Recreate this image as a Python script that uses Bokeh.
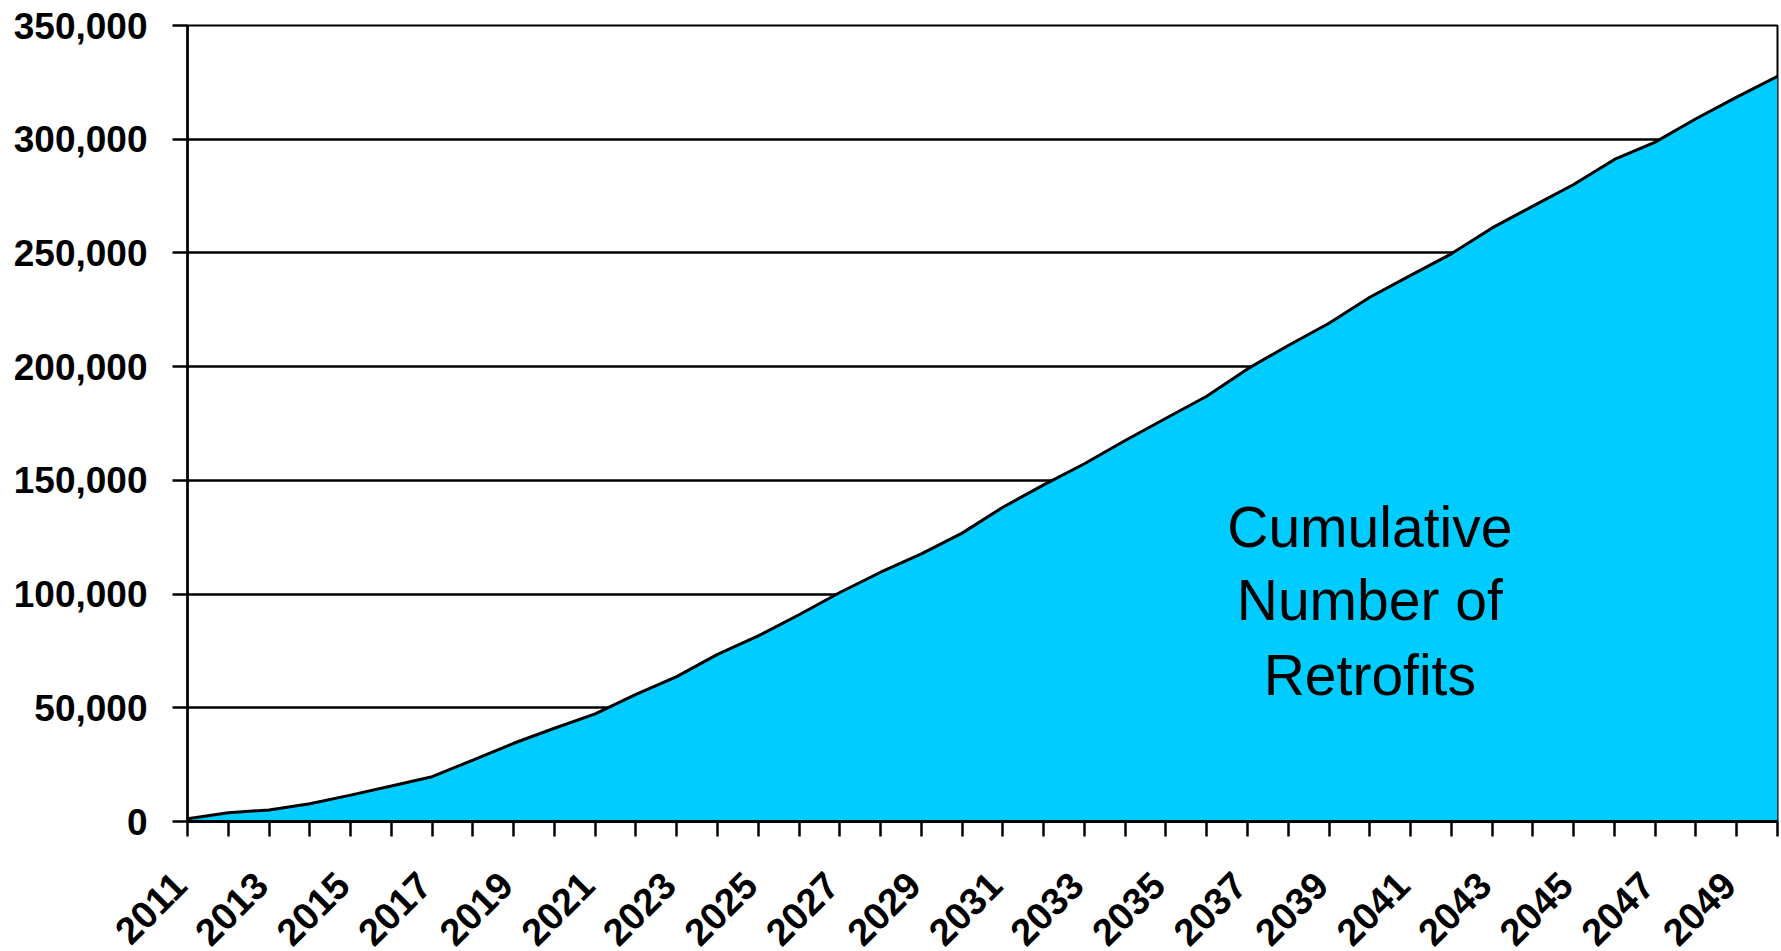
import math
from bokeh.plotting import figure
from bokeh.models import Range1d, FixedTicker, NumeralTickFormatter, ColumnDataSource, GlobalInlineStyleSheet
from bokeh.embed import file_html
from bokeh.resources import INLINE
from bokeh.core.properties import value

# ---- data ----
years = list(range(2011, 2051))
cumulative_retrofits = [
    1200, 3800, 5100, 7800, 11600, 15600, 19700, 27000, 34400, 41000,
    47300, 55900, 63700, 73500, 81600, 90900, 100700, 109600, 117700, 126800,
    138200, 148000, 157300, 167500, 177300, 187000, 199000, 209300, 219100, 230500,
    240100, 249600, 261000, 270600, 280100, 291100, 298700, 309000, 318500, 327600,
]
y_ticks = [0, 50000, 100000, 150000, 200000, 250000, 300000, 350000]
label_years = [yr for yr in years if yr % 2 == 1]
label_lines = ["Cumulative", "Number of", "Retrofits"]

FONT = "Liberation Sans"
PAD = "\u00a0"  # rotated labels end a little before their tick
x_tick_labels = {yr: (str(yr) + PAD if yr in label_years else "") for yr in years}

p = figure(width=1781, height=981, output_backend="svg", toolbar_location=None,
           x_range=Range1d(years[0], years[-1]), y_range=Range1d(0, 350000),
           min_border_left=187, min_border_right=4, min_border_top=25,
           min_border_bottom=160)
# the empty strip below the rotated labels falls outside the window
p.stylesheets = [GlobalInlineStyleSheet(css="html, body { overflow: hidden; margin: 0; }")]
p.background_fill_color = "white"
p.border_fill_color = "white"
p.outline_line_color = "black"
p.outline_line_width = 2

src = ColumnDataSource(dict(x=years, y=cumulative_retrofits))
p.varea(x="x", y1=0, y2="y", source=src, fill_color="#00CCFF", fill_alpha=1.0)
p.line(x="x", y="y", source=src, line_color="black", line_width=3)

# annotation text
ann_x = 2040.0
ann_y = [129700, 97200, 64300]
p.text(x=[ann_x] * 3, y=ann_y, text=label_lines, text_font=value(FONT),
       text_font_size="57px", text_align="center", text_baseline="alphabetic",
       text_color="black")

# grid
p.xgrid.visible = False
p.ygrid.ticker = FixedTicker(ticks=y_ticks)
p.ygrid.grid_line_color = "black"
p.ygrid.grid_line_width = 2.5

# x axis
xa = p.xaxis[0]
xa.ticker = FixedTicker(ticks=years, minor_ticks=[])
xa.major_label_overrides = x_tick_labels
xa.major_label_orientation = math.pi / 4
xa.major_label_text_font = FONT
xa.major_label_text_font_style = "bold"
xa.major_label_text_font_size = "38px"
xa.major_label_text_color = "black"
xa.major_label_standoff = 35
xa.major_tick_in = 0
xa.major_tick_out = 15
xa.major_tick_line_width = 2.5
xa.major_tick_line_color = "black"
xa.minor_tick_line_color = None
xa.axis_line_width = 3
xa.axis_line_color = "black"

# y axis
ya = p.yaxis[0]
ya.ticker = FixedTicker(ticks=y_ticks, minor_ticks=[])
ya.formatter = NumeralTickFormatter(format="0,0")
ya.major_label_text_font = FONT
ya.major_label_text_font_style = "bold"
ya.major_label_text_font_size = "37px"
ya.major_label_text_color = "black"
ya.major_label_standoff = 25
ya.major_tick_in = 0
ya.major_tick_out = 15
ya.major_tick_line_width = 2.5
ya.major_tick_line_color = "black"
ya.minor_tick_line_color = None
ya.axis_line_width = 2.5
ya.axis_line_color = "black"

open("out.html", "w").write(file_html(p, INLINE))
